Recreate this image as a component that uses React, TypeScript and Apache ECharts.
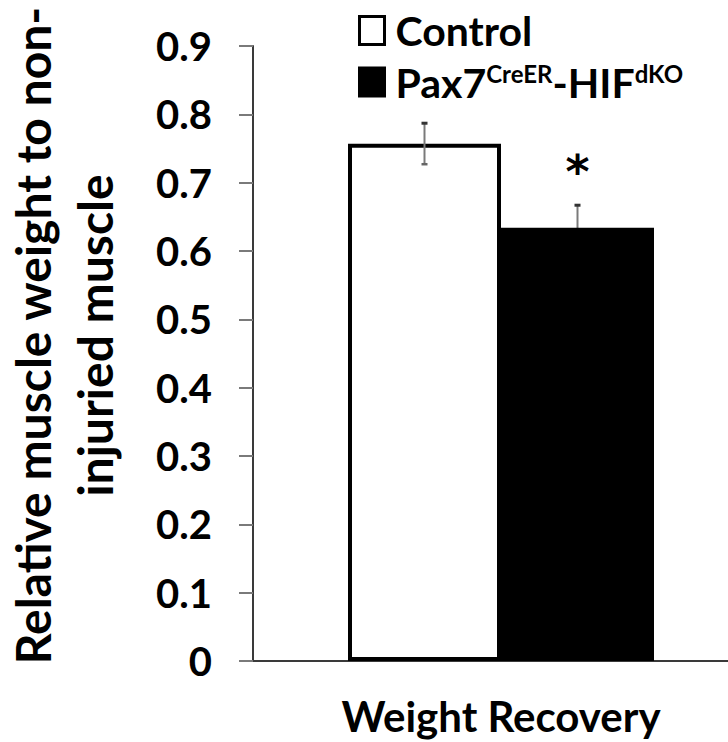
import React, { useEffect, useRef } from "react";
import * as echarts from "echarts";

const categories = ["Weight Recovery"];
const seriesNames = ["Control", "Pax7CreER-HIFdKO"];
const meanValues = [0.757, 0.634];
const errorValues = [0.03, 0.033];
const significance = ["", "*"];
const yTicks = { min: 0, max: 0.9, interval: 0.1 };

const FONT = "Lato, 'Open Sans', sans-serif";
const BAR_WIDTH = 153;
const BAR_COLORS = ["#ffffff", "#000000"];
const ERROR_Z = [5, 1];

export default function App() {
  const ref = useRef<HTMLDivElement>(null);
  useEffect(() => {
    if (!ref.current) return;
    const chart = echarts.init(ref.current, undefined, { renderer: "svg" });

    const errorSeries = meanValues.map((m, i) => ({
      type: "custom",
      z: ERROR_Z[i],
      silent: true,
      data: [[0, m, errorValues[i], i]],
      renderItem: (params: any, api: any) => {
        const idx = api.value(3);
        const mean = api.value(1);
        const err = api.value(2);
        const offset = (idx - 0.5) * BAR_WIDTH;
        const top = api.coord([0, mean + err]);
        const bot = api.coord([0, mean - err]);
        const x = top[0] + offset;
        const children: any[] = [
          { type: "line", shape: { x1: x, y1: top[1], x2: x, y2: bot[1] }, style: { stroke: "#7a7a7a", lineWidth: 2 } },
          { type: "line", shape: { x1: x - 3, y1: top[1], x2: x + 3, y2: top[1] }, style: { stroke: "#333", lineWidth: 3 } },
          { type: "line", shape: { x1: x - 3, y1: bot[1], x2: x + 3, y2: bot[1] }, style: { stroke: "#666", lineWidth: 2.5 } },
        ];
        const sig = significance[idx];
        if (sig) {
          children.push({
            type: "text",
            style: {
              text: sig,
              x,
              y: top[1] - 33,
              fontSize: 46,
              fontWeight: "bold",
              fontFamily: "'DejaVu Sans', sans-serif",
              fill: "#000",
              textAlign: "center",
              textVerticalAlign: "middle",
            },
          });
        }
        return { type: "group", children };
      },
    }));

    const option: any = {
      animation: false,
      backgroundColor: "#ffffff",
      textStyle: { fontFamily: FONT },
      grid: { left: 253, top: 46, height: 615, width: 496, outerBoundsMode: "none", containLabel: false },
      legend: {
        orient: "vertical",
        left: 353,
        top: 5,
        itemWidth: 25,
        itemHeight: 28,
        itemGap: 10,
        icon: "rect",
        data: [
          { name: seriesNames[0], itemStyle: { color: BAR_COLORS[0], borderColor: "#000", borderWidth: 3 } },
          { name: seriesNames[1], itemStyle: { color: BAR_COLORS[1], borderColor: "#000", borderWidth: 3 } },
        ],
        formatter: (name: string) =>
          name === seriesNames[1] ? "{n|Pax7}{s|CreER}{n|-HIF}{s|dKO}" : "{n|" + name + "}",
        textStyle: {
          fontFamily: FONT,
          padding: [0, 0, 0, 6],
          rich: {
            n: { fontSize: 41, fontWeight: "bold", color: "#000", fontFamily: FONT, lineHeight: 42, verticalAlign: "middle" },
            s: { fontSize: 24, fontWeight: "bold", color: "#000", fontFamily: FONT, lineHeight: 32, verticalAlign: "top" },
          },
        },
      },
      xAxis: {
        type: "category",
        data: categories,
        axisLine: { lineStyle: { color: "#3a3a3a", width: 2 } },
        axisTick: { show: false },
        axisLabel: { margin: 34, fontSize: 42, fontWeight: "bold", color: "#000", fontFamily: FONT },
      },
      yAxis: {
        type: "value",
        min: yTicks.min,
        max: yTicks.max,
        interval: yTicks.interval,
        splitLine: { show: false },
        axisLine: { show: true, lineStyle: { color: "#3a3a3a", width: 2 } },
        axisTick: { show: true, length: 14, lineStyle: { color: "#7a7a7a", width: 2 } },
        axisLabel: {
          margin: 41,
          fontSize: 40,
          fontWeight: "bold",
          color: "#000",
          fontFamily: FONT,
          formatter: (v: number) => (Math.round(v * 10) / 10).toString(),
        },
        name: "Relative muscle weight to non-\ninjuried muscle",
        nameLocation: "middle",
        nameGap: 128,
        nameTextStyle: {
          fontSize: 48,
          fontWeight: "bold",
          color: "#000",
          lineHeight: 62,
          fontFamily: FONT,
          padding: [0, 0, 0, 36],
        },
      },
      series: [
        {
          name: seriesNames[0],
          type: "bar",
          barWidth: BAR_WIDTH,
          barGap: "0%",
          z: 2,
          data: [meanValues[0]],
          itemStyle: { color: BAR_COLORS[0], borderColor: "#000000", borderWidth: 4 },
        },
        {
          name: seriesNames[1],
          type: "bar",
          barWidth: BAR_WIDTH,
          barGap: "0%",
          z: 2,
          data: [meanValues[1]],
          itemStyle: { color: BAR_COLORS[1] },
        },
        ...errorSeries,
      ],
    };
    chart.setOption(option);
    return () => chart.dispose();
  }, []);
  return (
    <div
      ref={ref}
      style={{ position: "absolute", left: 0, top: 0, width: 728, height: 742 }}
    />
  );
}
